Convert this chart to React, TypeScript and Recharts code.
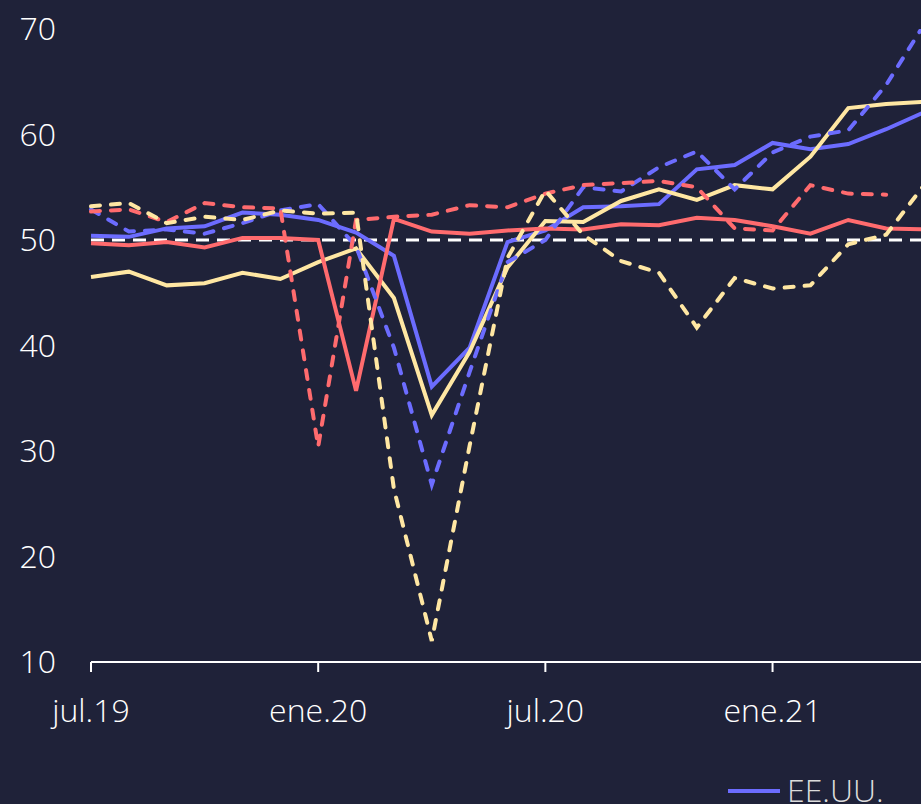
import { LineChart, Line, XAxis, YAxis, ReferenceLine, Legend } from "recharts";

// Meses del eje (jul.19 a may.21)
const meses = [
  "jul.19", "ago.19", "sep.19", "oct.19", "nov.19", "dic.19",
  "ene.20", "feb.20", "mar.20", "abr.20", "may.20", "jun.20",
  "jul.20", "ago.20", "sep.20", "oct.20", "nov.20", "dic.20",
  "ene.21", "feb.21", "mar.21", "abr.21", "may.21",
];

// PMI manufacturas (línea continua) y servicios (línea discontinua)
const eeuuManuf = [50.4, 50.3, 51.1, 51.3, 52.6, 52.4, 51.9, 50.7, 48.5, 36.1, 39.8, 49.8, 50.9, 53.1, 53.2, 53.4, 56.7, 57.1, 59.2, 58.6, 59.1, 60.5, 62.1];
const eeuuServ = [52.9, 50.8, 51.0, 50.6, 51.6, 52.8, 53.4, 49.4, 39.8, 26.8, 37.5, 47.9, 50.0, 55.0, 54.6, 56.9, 58.4, 54.8, 58.3, 59.8, 60.4, 64.7, 70.4];
const euroManuf = [46.5, 47.0, 45.7, 45.9, 46.9, 46.3, 47.9, 49.2, 44.5, 33.4, 39.4, 47.4, 51.8, 51.7, 53.7, 54.8, 53.8, 55.2, 54.8, 57.9, 62.5, 62.9, 63.1];
const euroServ = [53.2, 53.5, 51.6, 52.2, 51.9, 52.8, 52.5, 52.6, 26.4, 12.0, 30.5, 48.3, 54.7, 50.5, 48.0, 46.9, 41.7, 46.4, 45.4, 45.7, 49.6, 50.5, 55.2];
const chinaManuf = [49.7, 49.5, 49.8, 49.3, 50.2, 50.2, 50.0, 35.7, 52.0, 50.8, 50.6, 50.9, 51.1, 51.0, 51.5, 51.4, 52.1, 51.9, 51.3, 50.6, 51.9, 51.1, 51.0];
const chinaServ = [52.7, 52.9, 51.7, 53.5, 53.1, 53.0, 30.4, 51.9, 52.2, 52.4, 53.3, 53.1, 54.4, 55.2, 55.4, 55.6, 55.0, 51.1, 50.9, 55.2, 54.4, 54.3, null];

// orden de la leyenda
const paises = ["EE.UU.", "Eurozona", "China"];

const ticksY = [10, 20, 30, 40, 50, 60, 70];
const ticksX = [0, 6, 12, 18];

const data = meses.map((mes, i) => ({
  i,
  mes,
  eeuuManuf: eeuuManuf[i],
  eeuuServ: eeuuServ[i],
  euroManuf: euroManuf[i],
  euroServ: euroServ[i],
  chinaManuf: chinaManuf[i],
  chinaServ: chinaServ[i],
}));

const FONDO = "#1f2239";
const AZUL = "#6c6cff";
const AMARILLO = "#ffe7a3";
const ROJO = "#ff6b6e";
const FUENTE = "'Open Sans', 'Noto Sans', sans-serif";

const renderLegend = (props: any) => {
  const items = (props.payload || [])
    .filter((p: any) => p.type !== "none")
    .sort((a: any, b: any) => paises.indexOf(a.value) - paises.indexOf(b.value));
  return (
    <div style={{ display: "flex", flexDirection: "column" }}>
      {items.map((p: any) => (
        <div key={p.value} style={{ display: "flex", alignItems: "center", height: 44, marginBottom: 30 }}>
          <span style={{ display: "inline-block", width: 52, height: 4, background: p.color, marginTop: 4 }} />
          <span style={{ marginLeft: 7, fontSize: 32, fontWeight: 300, color: "#dcdcdc" }}>{p.value}</span>
        </div>
      ))}
    </div>
  );
};

export default function App() {
  return (
    <div
      style={{
        position: "absolute",
        left: 0,
        top: 0,
        width: 921,
        height: 804,
        overflow: "hidden",
        background: FONDO,
        fontFamily: FUENTE,
      }}
    >
      <LineChart width={960} height={850} data={data} margin={{ top: 29, right: 36, left: 0, bottom: 0 }}>
        <XAxis
          dataKey="i"
          type="number"
          domain={[0, 22]}
          ticks={ticksX}
          interval={0}
          tickFormatter={(v: number) => meses[v]}
          axisLine={{ stroke: "#ffffff", strokeWidth: 2 }}
          tickLine={{ stroke: "#ffffff", strokeWidth: 2 }}
          tickSize={10}
          tickMargin={27}
          height={148}
          tick={{ fill: "#ffffff", fontSize: 32, fontWeight: 300 }}
        />
        <YAxis
          domain={[10, 70]}
          ticks={ticksY}
          interval={0}
          allowDataOverflow
          width={91}
          axisLine={false}
          tickLine={false}
          tickSize={0}
          tickMargin={35}
          tick={{ fill: "#ffffff", fontSize: 32, fontWeight: 300 }}
        />
        <ReferenceLine y={50} stroke="#ffffff" strokeWidth={3} strokeDasharray="13 8" />
        <Legend
          verticalAlign="bottom"
          content={renderLegend}
          wrapperStyle={{ top: 767, left: 728, width: 200, height: 40 }}
        />

        {/* manufacturas */}
        <Line dataKey="eeuuManuf" name="EE.UU." stroke={AZUL} strokeWidth={4} dot={false} isAnimationActive={false} />
        <Line dataKey="euroManuf" name="Eurozona" stroke={AMARILLO} strokeWidth={4} dot={false} isAnimationActive={false} />
        <Line dataKey="chinaManuf" name="China" stroke={ROJO} strokeWidth={4} dot={false} isAnimationActive={false} />

        {/* servicios */}
        <Line dataKey="eeuuServ" legendType="none" stroke={AZUL} strokeWidth={4} strokeDasharray="9 11" strokeLinecap="round" dot={false} isAnimationActive={false} />
        <Line dataKey="chinaServ" legendType="none" stroke={ROJO} strokeWidth={4} strokeDasharray="9 11" strokeLinecap="round" dot={false} isAnimationActive={false} />
        <Line dataKey="euroServ" legendType="none" stroke={AMARILLO} strokeWidth={4} strokeDasharray="9 11" strokeLinecap="round" dot={false} isAnimationActive={false} />
      </LineChart>
    </div>
  );
}
